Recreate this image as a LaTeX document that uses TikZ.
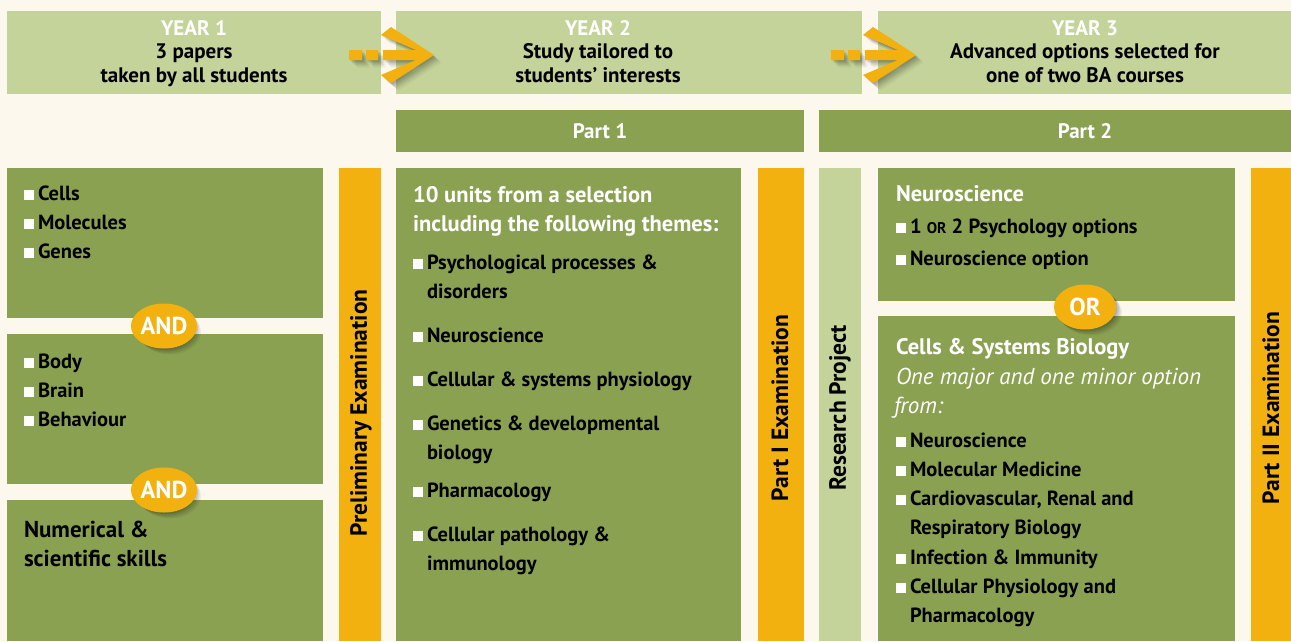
\documentclass[tikz,border=0pt]{standalone}
\usepackage{fontspec}
\setmainfont{PT Sans}
\usetikzlibrary{shapes.geometric}
\definecolor{bg}{HTML}{FDF8EE}
\definecolor{lg}{HTML}{C4D399}
\definecolor{dg}{HTML}{8BA152}
\definecolor{org}{HTML}{F2B10E}
\newcommand{\sq}{\textcolor{white}{\rule{10pt}{10pt}}\hspace{4pt}}
\newcommand{\ind}{\hspace{14pt}}
\newcommand{\arrowpath}{(349,50) rectangle (362,60) (366,50) rectangle (378,60)
  (383,50) -- (416,50) -- (381,35) -- (391,27) -- (434,55) -- (391,83) -- (381,75) -- (416,60) -- (383,60) -- cycle}
\begin{document}
\begin{tikzpicture}[x=1pt,y=-1pt,
  every node/.style={inner sep=0pt, outer sep=0pt},
  lbox/.style={fill=lg, anchor=north west},
  dbox/.style={fill=dg, anchor=north west},
  obox/.style={fill=org, anchor=north west},
  txt/.style={anchor=base west, font=\fontsize{20.5}{24}\selectfont\bfseries, text=black},
  wtxt/.style={anchor=base west, font=\fontsize{22.5}{24}\selectfont\bfseries, text=white},
  btxt/.style={anchor=base west, font=\fontsize{23}{24}\selectfont\bfseries, text=black},
  itxt/.style={anchor=base west, font=\fontsize{23}{24}\selectfont\itshape, text=white},
  ctxt/.style={anchor=base, font=\fontsize{21}{24}\selectfont\bfseries, text=black},
  cwtxt/.style={ctxt, text=white},
  vtxt/.style={rotate=90, font=\fontsize{23.5}{24}\selectfont\bfseries, text=black},
  pill/.style={ellipse, fill=org, minimum width=62pt, minimum height=45pt, text=white,
    font=\fontsize{24.5}{24}\selectfont\bfseries},
  shd/.style={fill=black, opacity=#1}
]
\useasboundingbox (0,0) rectangle (1291,641);
\fill[bg] (0,0) rectangle (1291,641);

% top row
\node[lbox, minimum width=374pt, minimum height=83pt] (y1) at (7,11) {};
\node[lbox, minimum width=466pt, minimum height=83pt] (y2) at (396,11) {};
\node[lbox, minimum width=413pt, minimum height=83pt] (y3) at (878,11) {};
% part row
\node[dbox, minimum width=408pt, minimum height=42pt] (p1) at (396,110) {};
\node[dbox, minimum width=472pt, minimum height=42pt] (p2) at (819,110) {};
% main row
\node[dbox, minimum width=316pt, minimum height=150pt] (a1) at (7,168) {};
\node[dbox, minimum width=316pt, minimum height=150pt] (a2) at (7,334) {};
\node[dbox, minimum width=316pt, minimum height=141pt] (a3) at (7,500) {};
\node[obox, minimum width=42pt, minimum height=473pt] (pre) at (339,168) {};
\node[dbox, minimum width=345pt, minimum height=473pt] (u1) at (396,168) {};
\node[obox, minimum width=46pt, minimum height=473pt] (e1) at (758,168) {};
\node[lbox, minimum width=42pt, minimum height=473pt] (rp) at (819,168) {};
\node[dbox, minimum width=357pt, minimum height=133pt] (ns) at (878,168) {};
\node[dbox, minimum width=357pt, minimum height=325pt] (cs) at (878,316) {};
\node[obox, minimum width=40pt, minimum height=473pt] (e2) at (1251,168) {};

% arrows with soft shadows
\foreach \s in {0,482}{
  \begin{scope}[xshift=\s pt]
    \foreach \d/\o in {1.5/0.10,3/0.09,4.5/0.08,6/0.06,7.5/0.04}{
      \fill[shd=\o, shift={(\d,\d)}] \arrowpath;
    }
    \fill[org] \arrowpath;
  \end{scope}
}

% pill shadows
\foreach \cx/\cy in {164/326,164/490,1085/307}{
  \foreach \d/\o in {1.5/0.10,3/0.09,4.5/0.08,6/0.06}{
    \fill[shd=\o] (\cx+\d,\cy+\d) ellipse (31 and 22.5);
  }
}

% year texts
\node[cwtxt] (t1a) at (194,35) {YEAR 1};
\node[ctxt] (t1b) at (194,58) {3 papers};
\node[ctxt] (t1c) at (194,82) {taken by all students};
\node[cwtxt] (t2a) at (598,35) {YEAR 2};
\node[ctxt] (t2b) at (598,58) {Study tailored to};
\node[ctxt] (t2c) at (598,82) {students’ interests};
\node[cwtxt] (t3a) at (1085,35) {YEAR 3};
\node[ctxt] (t3b) at (1085,58) {Advanced options selected for};
\node[ctxt] (t3c) at (1085,82) {one of two BA courses};
\node[cwtxt] (pl1) at (600,138) {Part 1};
\node[cwtxt] (pl2) at (1085,138) {Part 2};

% left column
\node[txt] (c1) at (24,200) {\sq Cells};
\node[txt] (c2) at (24,229) {\sq Molecules};
\node[txt] (c3) at (24,258) {\sq Genes};
\node[txt] (b1) at (24,368) {\sq Body};
\node[txt] (b2) at (24,397) {\sq Brain};
\node[txt] (b3) at (24,426) {\sq Behaviour};
\node[btxt] (n1) at (24,537) {Numerical \&};
\node[btxt] (n2) at (24,566) {scientific skills};
\node[pill] (and1) at (164,326) {AND};
\node[pill] (and2) at (164,490) {AND};

% part 1 column
\node[wtxt] (h1) at (413,202) {10 units from a selection};
\node[wtxt] (h2) at (413,231) {including the following themes:};
\node[txt] (u11) at (413,269) {\sq Psychological processes \&};
\node[txt] (u12) at (413,298) {\ind disorders};
\node[txt] (u2) at (413,342) {\sq Neuroscience};
\node[txt] (u3) at (413,386) {\sq Cellular \& systems physiology};
\node[txt] (u41) at (413,430) {\sq Genetics \& developmental};
\node[txt] (u42) at (413,459) {\ind biology};
\node[txt] (u5) at (413,497) {\sq Pharmacology};
\node[txt] (u61) at (413,541) {\sq Cellular pathology \&};
\node[txt] (u62) at (413,570) {\ind immunology};

% part 2 column
\node[wtxt] (nh) at (896,201) {Neuroscience};
\node[txt] (nb1) at (896,233) {\sq 1 {\fontsize{15.5}{18}\selectfont OR} 2 Psychology options};
\node[txt] (nb2) at (896,265) {\sq Neuroscience option};
\node[pill] (or) at (1085,307) {OR};
\node[wtxt] (ch) at (896,354) {Cells \& Systems Biology};
\node[itxt] (ci1) at (896,384) {One major and one minor option};
\node[itxt] (ci2) at (894,413) {from:};
\node[txt] (cb1) at (896,447) {\sq Neuroscience};
\node[txt] (cb2) at (896,476) {\sq Molecular Medicine};
\node[txt] (cb31) at (896,505) {\sq Cardiovascular, Renal and};
\node[txt] (cb32) at (896,534) {\ind Respiratory Biology};
\node[txt] (cb4) at (896,564) {\sq Infection \& Immunity};
\node[txt] (cb51) at (896,593) {\sq Cellular Physiology and};
\node[txt] (cb52) at (896,622) {\ind Pharmacology};

% vertical labels
\node[vtxt] (vpre) at (361,413) {Preliminary Examination};
\node[vtxt] (ve1) at (780,408) {Part I Examination};
\node[vtxt] (vrp) at (840,408) {Research Project};
\node[vtxt] (ve2) at (1271,408) {Part II Examination};
\end{tikzpicture}
\end{document}
